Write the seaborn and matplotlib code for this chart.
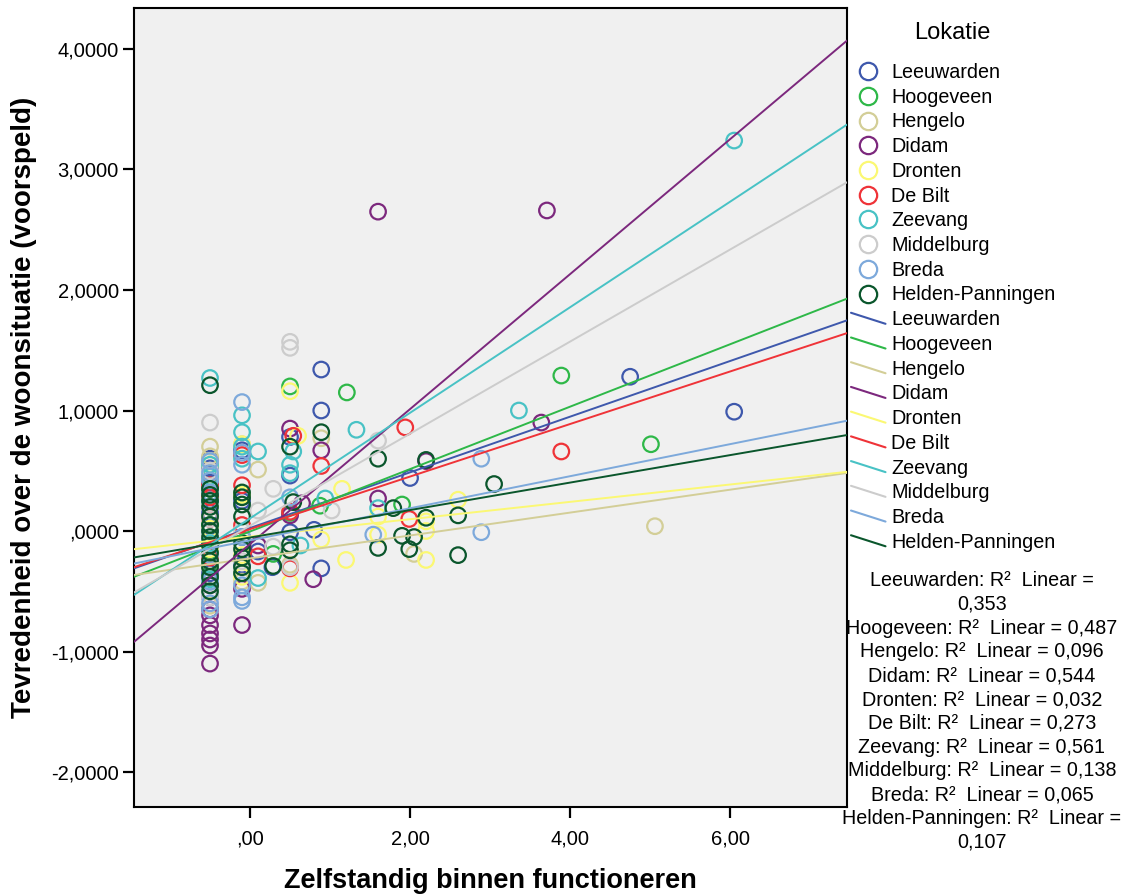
import pandas as pd
import seaborn as sns
import matplotlib.pyplot as plt
from matplotlib.lines import Line2D
from matplotlib.legend_handler import HandlerLine2D
from matplotlib.ticker import FuncFormatter

# locations, colours and the fitted lines (slope / intercept)
locations = ['Leeuwarden', 'Hoogeveen', 'Hengelo', 'Didam', 'Dronten', 'De Bilt',
             'Zeevang', 'Middelburg', 'Breda', 'Helden-Panningen']
colors = ['#3E58AC', '#2EB848', '#D3CE97', '#7C287D', '#FBF873', '#EF3338',
          '#48C2C5', '#CCCCCC', '#7DA9DB', '#0A562C']
slopes = [0.231, 0.259, 0.095, 0.560, 0.072, 0.218, 0.438, 0.382, 0.133, 0.114]
intercepts = [0.025, -0.004, -0.227, -0.108, -0.046, 0.016, 0.105, 0.044, -0.077, -0.054]
r_squared = ['0,353', '0,487', '0,096', '0,544', '0,032', '0,273', '0,561', '0,138', '0,065', '0,107']

# scatter points per location
leeuwarden_x = [0.89, 0.89, 0.5, 0.5, 4.75, 6.05, 2.0, 0.8, 0.89, 0.5, 0.28, 0.1,
                -0.5, -0.5, -0.5, -0.5, -0.5, -0.5, -0.5, -0.1, -0.1, -0.1, -0.1]
leeuwarden_y = [1.34, 1.00, 0.78, 0.46, 1.28, 0.99, 0.44, 0.01, -0.31, -0.01, -0.30, -0.17,
                0.60, 0.52, 0.40, 0.15, -0.08, -0.35, -0.55, 0.67, 0.25, -0.05, -0.28]
hoogeveen_x = [0.5, 1.21, 3.89, 5.01, 0.875, 1.9, 0.29, 0.5, -0.5, -0.5, -0.5, -0.1]
hoogeveen_y = [1.20, 1.15, 1.29, 0.72, 0.21, 0.22, -0.19, 0.15, 0.35, 0.05, -0.28, 0.30]
hengelo_x = [5.06, 0.1, 0.89, 2.05, 0.1, 0.5, -0.5, -0.5, -0.5, -0.5, -0.5, -0.1, -0.1, -0.1]
hengelo_y = [0.04, 0.51, 0.77, -0.19, -0.43, -0.28, 0.70, 0.62, 0.58, -0.30, -0.62, 0.72, -0.35, -0.42]
didam_x = [1.6, 3.71, 3.64, 0.5, 0.89, 1.6, 0.65, 0.79, 0.1, -0.1, 2.2, 0.5,
           -0.5, -0.5, -0.5, -0.5, -0.5, -0.5, -0.5, -0.5, -0.1]
didam_y = [2.65, 2.66, 0.90, 0.85, 0.67, 0.27, 0.23, -0.40, -0.12, -0.78, 0.58, 0.13,
           -0.45, -0.65, -0.70, -0.78, -0.85, -0.90, -0.95, -1.10, -0.48]
dronten_x = [0.5, 0.6, 1.15, 1.2, 0.89, 2.2, 2.2, 2.2, 2.6, 0.5, 1.6, 1.6,
             -0.5, -0.5, -0.5, -0.5, -0.1, -0.1, -0.1, -0.1]
dronten_y = [1.16, 0.79, 0.35, -0.24, -0.07, 0.08, 0.0, -0.24, 0.26, -0.43, -0.03, 0.12,
             0.55, 0.45, 0.02, -0.15, 0.30, -0.20, -0.38, 0.72]
debilt_x = [0.54, 1.94, 3.89, 0.89, 1.99, 0.5, 0.1, 0.5, -0.5, -0.5, -0.5, -0.5, -0.1, -0.1, -0.1]
debilt_y = [0.79, 0.86, 0.66, 0.54, 0.10, 0.16, -0.21, -0.31, 0.38, 0.28, 0.10, -0.22, 0.63, 0.38, 0.05]
zeevang_x = [6.05, 3.36, 1.33, 0.1, 0.54, 0.5, 0.5, 0.94, 1.6, 0.63, 0.1,
             -0.5, -0.5, -0.5, -0.5, -0.5, -0.5, -0.1, -0.1, -0.1, -0.1]
zeevang_y = [3.24, 1.00, 0.84, 0.66, 0.66, 0.55, 0.48, 0.27, 0.19, -0.12, -0.39,
             1.27, 0.55, 0.45, 0.25, -0.10, -0.40, 0.96, 0.82, 0.70, 0.60]
middelburg_x = [0.5, 0.5, 1.6, 0.29, 1.02, 0.1, 0.5, 0.29, -0.5, -0.5, -0.5, -0.5, -0.1, -0.1]
middelburg_y = [1.57, 1.52, 0.75, 0.35, 0.17, 0.17, -0.30, -0.13, 0.90, 0.50, 0.10, -0.55, 0.0, -0.25]
breda_x = [-0.1, 2.89, 2.89, 0.5, 1.54, -0.5, -0.5, -0.5, -0.5, -0.5, -0.5, -0.5, -0.5, -0.5,
           -0.1, -0.1, -0.1, -0.1, -0.1, -0.1]
breda_y = [1.07, 0.60, -0.01, 0.28, -0.03, 0.58, 0.48, 0.42, 0.32, 0.0, -0.20, -0.42, -0.60, -0.65,
           0.65, 0.55, -0.05, -0.45, -0.55, -0.58]
helden_x = [-0.5, 0.89, 1.6, 2.2, 3.05, 0.5, 1.6, 2.2, 2.6, 2.6, 1.99, 1.9, 2.05, 1.79, 0.5, 0.5, 0.29, 0.54,
            -0.5, -0.5, -0.5, -0.5, -0.5, -0.5, -0.5, -0.5, -0.5, -0.5, -0.5, -0.5, -0.5, -0.5, -0.5,
            -0.1, -0.1, -0.1, -0.1, -0.1, -0.1, -0.1, -0.1, -0.1]
helden_y = [1.21, 0.82, 0.60, 0.59, 0.39, 0.70, -0.14, 0.11, 0.13, -0.20, -0.15, -0.04, -0.05, 0.19, -0.11, -0.16, -0.29, 0.24,
            0.35, 0.30, 0.25, 0.20, 0.12, 0.05, 0.0, -0.05, -0.12, -0.18, -0.25, -0.30, -0.38, -0.45, -0.50,
            0.32, 0.28, 0.22, 0.12, -0.10, -0.15, -0.22, -0.30, -0.35]

all_x = [leeuwarden_x, hoogeveen_x, hengelo_x, didam_x, dronten_x, debilt_x,
         zeevang_x, middelburg_x, breda_x, helden_x]
all_y = [leeuwarden_y, hoogeveen_y, hengelo_y, didam_y, dronten_y, debilt_y,
         zeevang_y, middelburg_y, breda_y, helden_y]

xlim = (-1.45, 7.46)
ylim = (-2.29, 4.34)

rows = []
for loc, xs, ys in zip(locations, all_x, all_y):
    for x, y in zip(xs, ys):
        rows.append({'x': x, 'y': y, 'Lokatie': loc})
points = pd.DataFrame(rows)

line_rows = []
for loc, b, a in zip(locations, slopes, intercepts):
    for x in xlim:
        line_rows.append({'x': x, 'y': a + b * x, 'Lokatie': loc})
lines = pd.DataFrame(line_rows)

sns.set_style('white')
plt.rcParams['font.family'] = ['Liberation Sans', 'DejaVu Sans']
plt.rcParams.update({'text.color': 'black', 'axes.labelcolor': 'black',
                     'xtick.color': 'black', 'ytick.color': 'black'})
pal = dict(zip(locations, colors))

fig = plt.figure(figsize=(11.23, 8.96), dpi=100)
ax = fig.add_axes([134 / 1123, 1 - 807 / 896, (847 - 134) / 1123, (807 - 8) / 896])
ax.set_facecolor('#F0F0F0')

sns.scatterplot(data=points, x='x', y='y', hue='Lokatie', palette=pal, s=125,
                linewidth=1.6, legend=False, ax=ax, zorder=2)
pts = ax.collections[0]
pts.set_edgecolors(pts.get_facecolors())
pts.set_facecolors('none')

sns.lineplot(data=lines, x='x', y='y', hue='Lokatie', palette=pal, estimator=None,
             sort=False, linewidth=1.4, legend=False, ax=ax, zorder=3)

ax.set_xlim(*xlim)
ax.set_ylim(*ylim)
ax.set_xticks([0, 2, 4, 6])
ax.set_yticks([-2, -1, 0, 1, 2, 3, 4])


def comma_fmt(decimals):
    def f(v, pos):
        s = f'{v:.{decimals}f}'.replace('.', ',')
        if s.startswith('0,'):
            s = s[1:]
        return s
    return FuncFormatter(f)


ax.xaxis.set_major_formatter(comma_fmt(2))
ax.yaxis.set_major_formatter(comma_fmt(4))
ax.tick_params(direction='out', length=8, width=1.6, colors='black', labelsize=14.5, pad=3,
               bottom=True, left=True)
ax.tick_params(axis='x', pad=8)
for sp in ax.spines.values():
    sp.set_color('black')
    sp.set_linewidth(1.5)

label_font = ['Liberation Sans Narrow', 'Liberation Sans', 'DejaVu Sans']
ax.set_xlabel('Zelfstandig binnen functioneren', fontsize=19.5, fontweight='bold',
              family=label_font, labelpad=14)
ax.set_ylabel('Tevredenheid over de woonsituatie (voorspeld)', fontsize=20,
              fontweight='bold', family=label_font, labelpad=10)


class DiagHandler(HandlerLine2D):
    def create_artists(self, legend, orig, xdescent, ydescent, width, height, fontsize, trans):
        ln = Line2D([-xdescent, -xdescent + width], [-ydescent + height * 0.9, -ydescent + height * 0.1],
                    color=orig.get_color(), linewidth=orig.get_linewidth())
        ln.set_transform(trans)
        return [ln]


marker_handles = [Line2D([], [], ls='none', marker='o', mfc='none', mec=c, ms=12.5, mew=1.6)
                  for c in colors]
line_handles = [Line2D([], [], color=c, lw=1.5) for c in colors]
diag = DiagHandler()
leg = fig.legend(marker_handles + line_handles, locations + locations,
                 loc='upper left', bbox_to_anchor=(851 / 1123, 1 - 63 / 896), frameon=False,
                 fontsize=14.2, labelspacing=0.29, handlelength=1.75,
                 handletextpad=0.3, borderaxespad=0, borderpad=0,
                 handler_map={h: diag for h in line_handles})
fig.text(952 / 1123, 1 - 33 / 896, 'Lokatie', ha='center', va='center', fontsize=17)

r2_lines = []
for loc, r in zip(locations, r_squared):
    if loc in ('Leeuwarden', 'Helden-Panningen'):
        r2_lines.append(f'{loc}: R²  Linear =')
        r2_lines.append(r)
    else:
        r2_lines.append(f'{loc}: R²  Linear = {r}')
fig.text(982 / 1123, 1 - 571 / 896, '\n'.join(r2_lines), ha='center', va='top',
         fontsize=14.2, linespacing=1.32)

fig.savefig('out.png', dpi=100)
